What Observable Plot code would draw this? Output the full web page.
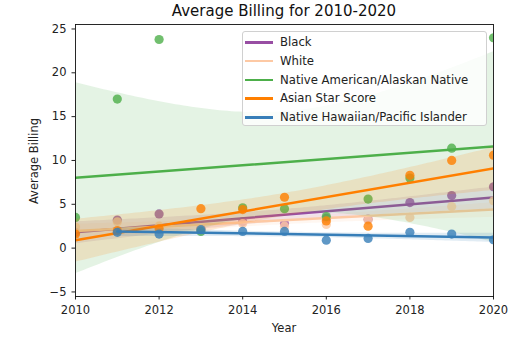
<!DOCTYPE html>
<html>
<head>
<meta charset="utf-8">
<script src="https://cdn.jsdelivr.net/npm/d3@7"></script>
<script src="https://cdn.jsdelivr.net/npm/@observablehq/plot@0.6"></script>
<style>
  body { margin: 0; background: white; }
  #wrap { position: relative; width: 523px; height: 362px; font-family: "DejaVu Sans", sans-serif; color: #222; }
  #title { position: absolute; left: 75px; width: 418px; top: 2px; text-align: center; font-size: 15px; color: #111; }
  #ylab { position: absolute; left: 34px; top: 161px; transform: translate(-50%, -50%) rotate(-90deg); font-size: 11.5px; white-space: nowrap; }
  #xlab { position: absolute; left: 284px; top: 321px; transform: translateX(-50%); font-size: 11.5px; }
  #legend { position: absolute; left: 242px; top: 31px; width: 245px; height: 95px; border: 1px solid #d0d0d0; border-radius: 3px; background: rgba(255,255,255,0.8); box-sizing: border-box; }
  .row { position: absolute; left: 0; height: 14px; font-size: 11.7px; white-space: nowrap; }
  .row .h { position: absolute; left: 2px; width: 28px; height: 2.5px; top: 6px; }
  .row .t { position: absolute; left: 37px; top: 0; line-height: 14px; }
</style>
</head>
<body>
<div id="wrap">
  <div id="chart"></div>
  <div id="title"></div>
  <div id="ylab"></div>
  <div id="xlab"></div>
  <div id="legend"></div>
</div>
<script>
const titleText = "Average Billing for 2010-2020";
const xLabel = "Year";
const yLabel = "Average Billing";
const years = [2010, 2011, 2012, 2013, 2014, 2015, 2016, 2017, 2018, 2019, 2020];
const xTicks = [2010, 2012, 2014, 2016, 2018, 2020];
const yTicks = [-5, 0, 5, 10, 15, 20, 25];
const seriesNames = ["Black", "White", "Native American/Alaskan Native", "Asian Star Score", "Native Hawaiian/Pacific Islander"];
const seriesColors = ["#984ea3", "#fdc9a4", "#4daf4a", "#ff7f00", "#377eb8"];
const black = [1.8, 3.2, 3.9, 2.2, 3.0, 2.8, 3.4, 3.3, 5.2, 6.0, 7.0];
const white = [2.4, 3.0, 2.5, 2.2, 2.8, 2.5, 2.7, 3.2, 3.5, 4.75, 5.4];
const nativeAmerican = [3.5, 17.0, 23.8, 1.9, 4.6, 4.5, 3.6, 5.6, 8.0, 11.4, 24.0];
const asian = [1.6, 2.0, 2.2, 4.5, 4.4, 5.8, 3.1, 2.5, 8.3, 10.0, 10.6];
const hawaiian = [null, 1.8, 1.6, 2.1, 1.9, 1.9, 0.9, 1.1, 1.8, 1.6, 0.95];
const seriesValues = [black, white, nativeAmerican, asian, hawaiian];

const marks = [];
seriesValues.forEach((vals, i) => {
  const rows = years.map((year, j) => ({year, value: vals[j]})).filter(d => d.value != null);
  const color = seriesColors[i];
  marks.push(Plot.dot(rows, {x: "year", y: "value", r: 4.6, fill: color, fillOpacity: 0.8, clip: true}));
  marks.push(Plot.linearRegressionY(rows, {x: "year", y: "value", stroke: color, fill: color, fillOpacity: 0.15, strokeWidth: 2.5, ci: 0.95, clip: true}));
});
marks.push(Plot.frame({stroke: "#111", strokeWidth: 0.9}));

const chart = Plot.plot({
  width: 523, height: 362,
  marginLeft: 75, marginRight: 30, marginTop: 24, marginBottom: 66,
  style: {fontFamily: "DejaVu Sans", fontSize: "11.5px", color: "#222", background: "white"},
  x: {domain: [2010, 2020], ticks: xTicks, tickFormat: "d", label: null, tickSize: 3.5},
  y: {domain: [-5.52, 25.51], ticks: yTicks, label: null, tickSize: 3.5},
  marks
});
document.getElementById("chart").appendChild(chart);
document.getElementById("title").textContent = titleText;
document.getElementById("xlab").textContent = xLabel;
document.getElementById("ylab").textContent = yLabel;
const leg = document.getElementById("legend");
seriesNames.forEach((name, i) => {
  const row = document.createElement("div");
  row.className = "row";
  row.style.top = (3 + i * 18.8) + "px";
  row.innerHTML = `<div class="h" style="background:${seriesColors[i]}"></div><div class="t"></div>`;
  row.querySelector(".t").textContent = name;
  leg.appendChild(row);
});
</script>
</body>
</html>
